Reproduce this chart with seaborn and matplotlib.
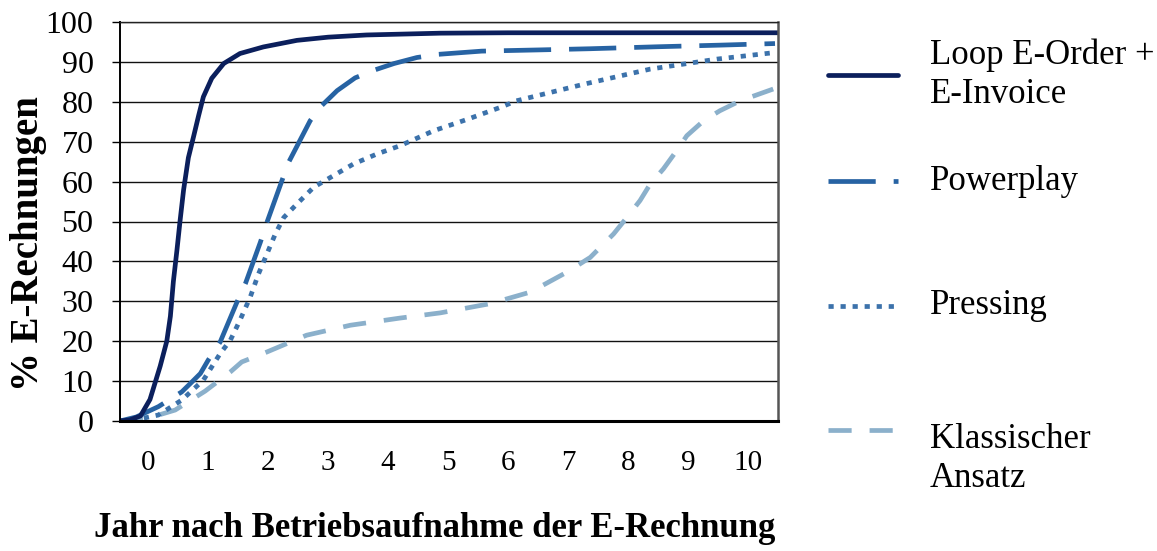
import matplotlib
matplotlib.use("Agg")
import matplotlib.pyplot as plt
from matplotlib.lines import Line2D
from matplotlib.colors import to_hex
import seaborn as sns
import pandas as pd

# ---- data ----
series_names = ["Loop E-Order +\nE-Invoice", "Powerplay", "Pressing", "Klassischer\nAnsatz"]

loop_x = [-0.47, -0.3, -0.13, 0.03, 0.2, 0.31, 0.37, 0.42, 0.48, 0.53, 0.59, 0.67, 0.76,
          0.84, 0.92, 1.06, 1.26, 1.53, 1.92, 2.48, 3.0, 3.64, 4.87, 6.0, 8.0, 10.5]
loop_y = [0, 0.3, 1.25, 5.4, 13.75, 20, 26.25, 35, 42.9, 50, 57.9, 66, 71.5,
          76.5, 81.25, 85.9, 89.6, 92.1, 93.75, 95.4, 96.2, 96.75, 97.2, 97.3, 97.3, 97.3]

power_x = [-0.47, -0.2, 0.17, 0.56, 0.73, 0.87, 1.0, 1.2, 1.48, 1.62, 1.87, 1.98, 2.23,
           2.34, 2.7, 2.89, 3.15, 3.45, 3.76, 4.1, 4.48, 4.84, 5.56, 6.5, 7.37, 8.5, 9.53, 10.45]
power_y = [0, 1, 3.6, 7.3, 9.8, 11.9, 15.25, 19.8, 29.8, 34.4, 44.8, 49.8, 60.25,
           64.8, 75.25, 79, 82.8, 86, 87.9, 89.6, 91.1, 91.9, 92.7, 93, 93.3, 93.8, 94.2, 94.6]

press_x = [-0.47, -0.22, 0.17, 0.56, 0.92, 1.2, 1.37, 1.53, 1.7, 1.84, 1.98, 2.12, 2.26,
           2.48, 2.76, 3.09, 3.42, 3.81, 4.2, 4.76, 5.3, 5.87, 6.14, 7.26, 8.37, 9.48, 10.42]
press_y = [0, 0.25, 1.5, 5.25, 10.25, 16.9, 20.25, 25.25, 31, 36.9, 41.9, 46.9, 51,
           54.4, 58.6, 61.5, 64.4, 66.9, 69, 72.75, 75.5, 78.6, 80.25, 84.4, 88.2, 90.7, 92.3]

klass_x = [-0.47, 0.0, 0.45, 0.95, 1.37, 1.56, 1.98, 2.64, 3.37, 4.2, 4.87, 5.7, 6.37, 6.98,
           7.37, 7.76, 7.98, 8.2, 8.37, 8.59, 8.81, 8.98, 9.26, 9.53, 9.87, 10.42]
klass_y = [0, 0.7, 2.75, 7.5, 12.3, 14.8, 17.3, 21.5, 24, 25.8, 27.1, 29.4, 32.3, 37.3,
           41, 46.9, 51, 55.25, 59.4, 63.2, 67.75, 71.5, 75.25, 77.75, 80.25, 83.2]

x_ticks = list(range(0, 11))
y_ticks = list(range(0, 101, 10))

# ---- styles ----
colors = {series_names[0]: "#0b1f5c", series_names[1]: "#2763a3",
          series_names[2]: "#3c72ab", series_names[3]: "#8bb0cb"}
dashes = {series_names[0]: "", series_names[1]: (10.0, 3.8),
          series_names[2]: (1.1, 1.45), series_names[3]: (4.9, 3.8)}
LW = 3.4

frames = []
for name, xs, ys in zip(series_names, [loop_x, power_x, press_x, klass_x],
                        [loop_y, power_y, press_y, klass_y]):
    frames.append(pd.DataFrame({"Jahr": xs, "Wert": ys, "Serie": name}))
df = pd.concat(frames, ignore_index=True)

sns.set_theme(style="white")
plt.rcParams["font.family"] = ["Liberation Serif", "DejaVu Serif"]
plt.rcParams["text.color"] = "black"
plt.rcParams["axes.labelcolor"] = "black"
plt.rcParams["xtick.color"] = "black"
plt.rcParams["ytick.color"] = "black"

fig = plt.figure(figsize=(11.57, 5.51), dpi=100)
fig.patch.set_facecolor("white")
ax = fig.add_axes([120 / 1157, 1 - 421 / 551, 658 / 1157, 399 / 551])

sns.lineplot(data=df, x="Jahr", y="Wert", hue="Serie", style="Serie",
             palette=colors, dashes=dashes, hue_order=series_names[::-1],
             style_order=series_names[::-1], estimator=None, sort=False,
             linewidth=LW, legend=False, ax=ax)

# enforce width / dash pattern on the seaborn lines
color_to_name = {to_hex(c): n for n, c in colors.items()}
for ln in ax.lines:
    name = color_to_name.get(to_hex(ln.get_color()))
    if name is None:
        continue
    ln.set_linewidth(LW)
    if dashes[name]:
        ln.set_dashes(dashes[name])
        ln.set_dash_capstyle("butt")
    else:
        ln.set_linestyle("-")
        ln.set_solid_capstyle("round")
        ln.set_solid_joinstyle("round")

ax.set_xlim(-0.47, 10.5)
ax.set_ylim(0, 100)
ax.set_xticks(x_ticks)
ax.set_xticklabels([str(t) for t in x_ticks])
ax.set_yticks(y_ticks)
ax.set_yticklabels([str(t) for t in y_ticks])
ax.yaxis.grid(True, color="#111111", linewidth=1.0)
ax.xaxis.grid(False)
ax.set_axisbelow(True)

ax.tick_params(axis="y", which="major", direction="out", length=6, width=1,
               color="black", labelcolor="black", left=True, labelsize=23, pad=13)
ax.tick_params(axis="x", which="major", length=0, labelsize=21, labelcolor="black", pad=21)

ax.spines["left"].set_color("black")
ax.spines["left"].set_linewidth(1.4)
ax.spines["bottom"].set_color("black")
ax.spines["bottom"].set_linewidth(2.2)
ax.spines["right"].set_color("#555555")
ax.spines["right"].set_linewidth(1.8)
ax.spines["top"].set_color("#222222")
ax.spines["top"].set_linewidth(1.0)

ax.set_xlabel("Jahr nach Betriebsaufnahme der E-Rechnung", fontsize=25,
              fontweight="bold", color="black")
ax.xaxis.set_label_coords((435 - 120) / 658, (421 - 512) / 399)
ax.set_ylabel("% E-Rechnungen", fontsize=28, fontweight="bold", color="black")
ax.yaxis.set_label_coords((47 - 120) / 658, (421 - 244) / 399)

# ---- legend (drawn at the right, as in the reference) ----
W, H = 1157, 551
leg_y = [75, 181, 306, 430]
text_y = [75, 181, 306, 459]
for name, ly, ty in zip(series_names, leg_y, text_y):
    d = dashes[name]
    l = Line2D([828 / W, 898 / W], [1 - ly / H, 1 - ly / H], transform=fig.transFigure,
               color=colors[name], linewidth=LW)
    if d:
        l.set_dashes(d)
        l.set_dash_capstyle("butt")
    fig.add_artist(l)
    fig.text(930 / W, 1 - ty / H, name, fontsize=25, ha="left", va="center",
             linespacing=1.25, color="black")

fig.savefig("out.png", dpi=100, facecolor="white")
